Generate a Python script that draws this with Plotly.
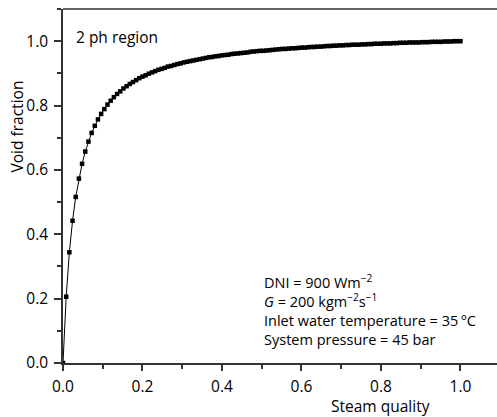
import plotly.graph_objects as go

steam_quality = [
    0.000, 0.008, 0.016, 0.024, 0.032, 0.040, 0.048, 0.056, 0.064, 0.072,
    0.080, 0.088, 0.096, 0.104, 0.112, 0.120, 0.128, 0.136, 0.144, 0.152,
    0.160, 0.168, 0.176, 0.184, 0.192, 0.200, 0.208, 0.216, 0.224, 0.232,
    0.240, 0.248, 0.256, 0.264, 0.272, 0.280, 0.288, 0.296, 0.304, 0.312,
    0.320, 0.328, 0.336, 0.344, 0.352, 0.360, 0.368, 0.376, 0.384, 0.392,
    0.400, 0.408, 0.416, 0.424, 0.432, 0.440, 0.448, 0.456, 0.464, 0.472,
    0.480, 0.488, 0.496, 0.504, 0.512, 0.520, 0.528, 0.536, 0.544, 0.552,
    0.560, 0.568, 0.576, 0.584, 0.592, 0.600, 0.608, 0.616, 0.624, 0.632,
    0.640, 0.648, 0.656, 0.664, 0.672, 0.680, 0.688, 0.696, 0.704, 0.712,
    0.720, 0.728, 0.736, 0.744, 0.752, 0.760, 0.768, 0.776, 0.784, 0.792,
    0.800, 0.808, 0.816, 0.824, 0.832, 0.840, 0.848, 0.856, 0.864, 0.872,
    0.880, 0.888, 0.896, 0.904, 0.912, 0.920, 0.928, 0.936, 0.944, 0.952,
    0.960, 0.968, 0.976, 0.984, 0.992, 1.000,
]

void_fraction = [
    0.000, 0.206, 0.344, 0.442, 0.516, 0.573, 0.619, 0.657, 0.688, 0.715,
    0.737, 0.757, 0.774, 0.789, 0.803, 0.815, 0.826, 0.836, 0.844, 0.853,
    0.860, 0.867, 0.873, 0.879, 0.885, 0.890, 0.894, 0.899, 0.903, 0.907,
    0.911, 0.914, 0.917, 0.921, 0.923, 0.926, 0.929, 0.931, 0.934, 0.936,
    0.938, 0.940, 0.942, 0.944, 0.946, 0.948, 0.950, 0.951, 0.953, 0.954,
    0.956, 0.957, 0.958, 0.960, 0.961, 0.962, 0.963, 0.964, 0.965, 0.967,
    0.968, 0.969, 0.970, 0.970, 0.971, 0.972, 0.973, 0.974, 0.975, 0.976,
    0.976, 0.977, 0.978, 0.978, 0.979, 0.980, 0.980, 0.981, 0.982, 0.982,
    0.983, 0.983, 0.984, 0.985, 0.985, 0.986, 0.986, 0.987, 0.987, 0.988,
    0.988, 0.989, 0.989, 0.989, 0.990, 0.990, 0.991, 0.991, 0.992, 0.992,
    0.992, 0.993, 0.993, 0.993, 0.994, 0.994, 0.995, 0.995, 0.995, 0.996,
    0.996, 0.996, 0.996, 0.997, 0.997, 0.997, 0.998, 0.998, 0.998, 0.998,
    0.999, 0.999, 0.999, 1.000, 1.000, 1.000,
]

x_tick_vals = [0.0, 0.2, 0.4, 0.6, 0.8, 1.0]
x_tick_text = ["0.0", "0.2", "0.4", "0.6", "0.8", "1.0"]
y_tick_vals = [0.0, 0.2, 0.4, 0.6, 0.8, 1.0]
y_tick_text = ["0.0", "0.2", "0.4", "0.6", "0.8", "1.0"]

info_lines = [
    "DNI = 900 Wm<sup>−2</sup>",
    "<i>G</i> = 200 kgm<sup>−2</sup>s<sup>−1</sup>",
    "Inlet water temperature = 35\u2009°C",
    "System pressure = 45 bar",
]

FONT = "Open Sans"
FS = 15.5
AX = "#333333"

fig = go.Figure()
fig.add_trace(go.Scatter(
    x=steam_quality, y=void_fraction, mode="lines+markers",
    line=dict(color="black", width=1),
    marker=dict(symbol="square", size=4.5, color="black"),
    showlegend=False, cliponaxis=True,
))

fig.update_layout(
    width=497, height=417,
    margin=dict(l=63, r=0, t=9, b=54),
    paper_bgcolor="white", plot_bgcolor="white",
    font=dict(family=FONT, size=FS, color="black"),
    xaxis=dict(
        range=[0, 1.092], showgrid=False, zeroline=False,
        showline=True, linecolor=AX, linewidth=1.5,
        ticks="outside", ticklen=6, tickwidth=1.5, tickcolor=AX,
        tickvals=x_tick_vals, ticktext=x_tick_text,
        tickfont=dict(family=FONT, size=FS), ticklabelstandoff=3,
        minor=dict(dtick=0.1, tick0=0, ticks="outside", ticklen=4, tickwidth=1.5, tickcolor=AX),
    ),
    yaxis=dict(
        range=[0, 1.1], showgrid=False, zeroline=False,
        showline=True, linecolor=AX, linewidth=1.5,
        ticks="outside", ticklen=7, tickwidth=1.5, tickcolor=AX,
        tickvals=y_tick_vals, ticktext=y_tick_text,
        tickfont=dict(family=FONT, size=FS), ticklabelstandoff=3,
        minor=dict(dtick=0.1, tick0=0, ticks="outside", ticklen=4, tickwidth=1.5, tickcolor=AX),
    ),
    shapes=[dict(type="line", xref="paper", yref="paper", x0=0, x1=1, y0=1, y1=1,
                 line=dict(color=AX, width=1.5))],
)

fig.add_annotation(text="Void fraction", xref="paper", yref="y", x=-0.106, y=0.735,
                   textangle=-90, showarrow=False, font=dict(size=FS),
                   xanchor="center", yanchor="middle")
fig.add_annotation(text="Steam quality", xref="x", yref="paper", x=0.80, y=-0.122,
                   showarrow=False, font=dict(size=FS), xanchor="center", yanchor="middle")
fig.add_annotation(text="2 ph region", xref="paper", yref="paper", x=0.025, y=0.921,
                   showarrow=False, font=dict(size=FS), xanchor="left", yanchor="middle")

fig.add_annotation(text="<br>".join(info_lines), xref="paper", yref="paper",
                   x=0.459, y=0.15, showarrow=False, align="left",
                   font=dict(size=14.5), xanchor="left", yanchor="middle")

fig.write_html("out.html", config={"displayModeBar": False},
               post_script="document.body.style.margin='0';")
